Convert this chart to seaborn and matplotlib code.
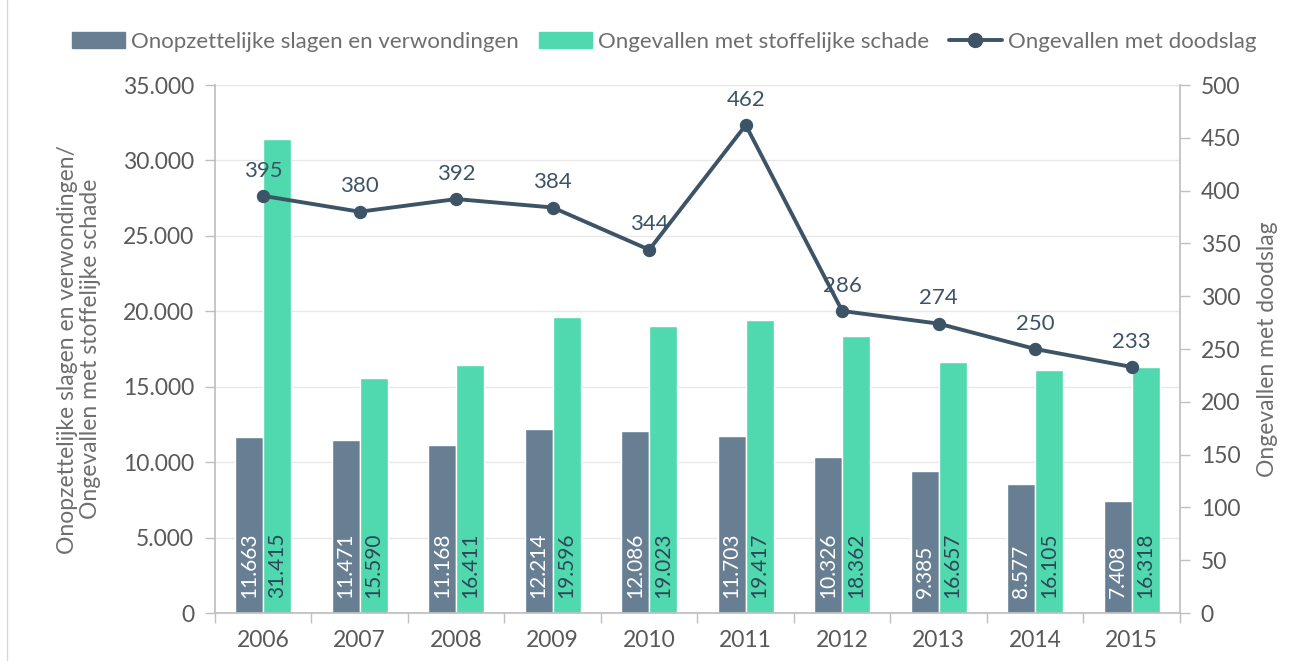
import numpy as np
import pandas as pd
import seaborn as sns
import matplotlib.pyplot as plt
from matplotlib.patches import Patch
from matplotlib.lines import Line2D
from matplotlib.ticker import FuncFormatter, MultipleLocator, FixedLocator

years = ['2006', '2007', '2008', '2009', '2010', '2011', '2012', '2013', '2014', '2015']
slagen = [11663, 11471, 11168, 12214, 12086, 11703, 10326, 9385, 8577, 7408]
schade = [31415, 15590, 16411, 19596, 19023, 19417, 18362, 16657, 16105, 16318]
doodslag = [395, 380, 392, 384, 344, 462, 286, 274, 250, 233]

series_names = ['Onopzettelijke slagen en verwondingen', 'Ongevallen met stoffelijke schade']
line_name = 'Ongevallen met doodslag'

c_gray = '#687f93'
c_green = '#50d9ae'
c_line = '#3d5366'
c_text = '#6e6e6e'


def dutch(v, pos=None):
    return f'{int(v):,}'.replace(',', '.')


def main():
    sns.set_theme(style='white')
    plt.rcParams['font.family'] = ['Lato', 'DejaVu Sans']

    df = pd.DataFrame({
        'jaar': years * 2,
        'aantal': slagen + schade,
        'reeks': [series_names[0]] * len(years) + [series_names[1]] * len(years),
    })

    fig = plt.figure(figsize=(12.92, 6.61), dpi=100)
    ax = fig.add_axes([0.1664, 0.0726, 0.7469, 0.7988])

    sns.barplot(data=df, x='jaar', y='aantal', hue='reeks', ax=ax,
                palette=[c_gray, c_green], width=0.58, saturation=1,
                errorbar=None, legend=False)

    ax.set_ylim(0, 35000)
    ax.yaxis.set_major_locator(MultipleLocator(5000))
    ax.yaxis.set_major_formatter(FuncFormatter(dutch))
    ax.grid(axis='y', color='#e8e8e8', linewidth=1)
    ax.set_axisbelow(True)
    ax.set_xlim(-0.5, len(years) - 0.5)
    ax.set_xlabel('')
    ax.set_ylabel('Onopzettelijke slagen en verwondingen/\nOngevallen met stoffelijke schade',
                  fontsize=16.5, color=c_text, labelpad=16, linespacing=1.1)

    # value labels inside the bars, rotated
    for container, col in zip(ax.containers, ['white', '#2e4758']):
        for patch, val in zip(container.patches, container.datavalues):
            ax.annotate(dutch(val), (patch.get_x() + patch.get_width() / 2, 0),
                        xytext=(0, 11), textcoords='offset points',
                        rotation=90, ha='center', va='bottom', fontsize=15, color=col)

    # twin axis with the line
    ax2 = ax.twinx()
    sns.pointplot(x=years, y=doodslag, ax=ax2, color=c_line, markers='o',
                  markersize=7.5, linewidth=2.8)
    ax2.set_ylim(0, 500)
    ax2.yaxis.set_major_locator(MultipleLocator(50))
    ax2.set_ylabel('Ongevallen met doodslag', fontsize=16.5, color=c_text, labelpad=12)
    for i, v in enumerate(doodslag):
        ax2.annotate(str(v), (i, v), xytext=(0, 11), textcoords='offset points',
                     ha='center', va='bottom', fontsize=16, color=c_line)
    ax2.set_xlim(-0.5, len(years) - 0.5)

    # axis styling
    for a in (ax, ax2):
        for s in a.spines.values():
            s.set_color('#bfbfbf')
        a.spines['top'].set_visible(False)
        a.tick_params(axis='y', colors='#bfbfbf', labelcolor='#595959', labelsize=16.5,
                      length=7, width=1, direction='out')
    ax.spines['right'].set_visible(False)
    ax2.spines['left'].set_visible(False)
    ax2.spines['bottom'].set_visible(False)
    ax.tick_params(axis='y', left=True, pad=8)
    ax2.tick_params(axis='y', right=True, pad=8)

    ax.xaxis.set_minor_locator(FixedLocator(np.arange(-0.5, len(years), 1)))
    ax.tick_params(axis='x', which='major', length=0, labelsize=16.5, labelcolor='#595959', pad=12)
    ax.tick_params(axis='x', which='minor', bottom=True, length=7, color='#bfbfbf')

    handles = [Patch(color=c_gray), Patch(color=c_green),
               Line2D([0], [0], color=c_line, linewidth=2.8, marker='o', markersize=10)]
    fig.legend(handles, series_names + [line_name], loc='center', ncol=3,
               bbox_to_anchor=(0.514, 0.937), frameon=False, fontsize=16,
               labelcolor=c_text, handlelength=2.4, handleheight=0.75,
               handletextpad=0.25, columnspacing=0.9)

    # chart border on the left
    fig.add_artist(Line2D([7 / 1292, 7 / 1292], [0, 1], color='#d9d9d9', linewidth=1))

    fig.savefig('out.png', dpi=100)


if __name__ == "__main__":
    main()
